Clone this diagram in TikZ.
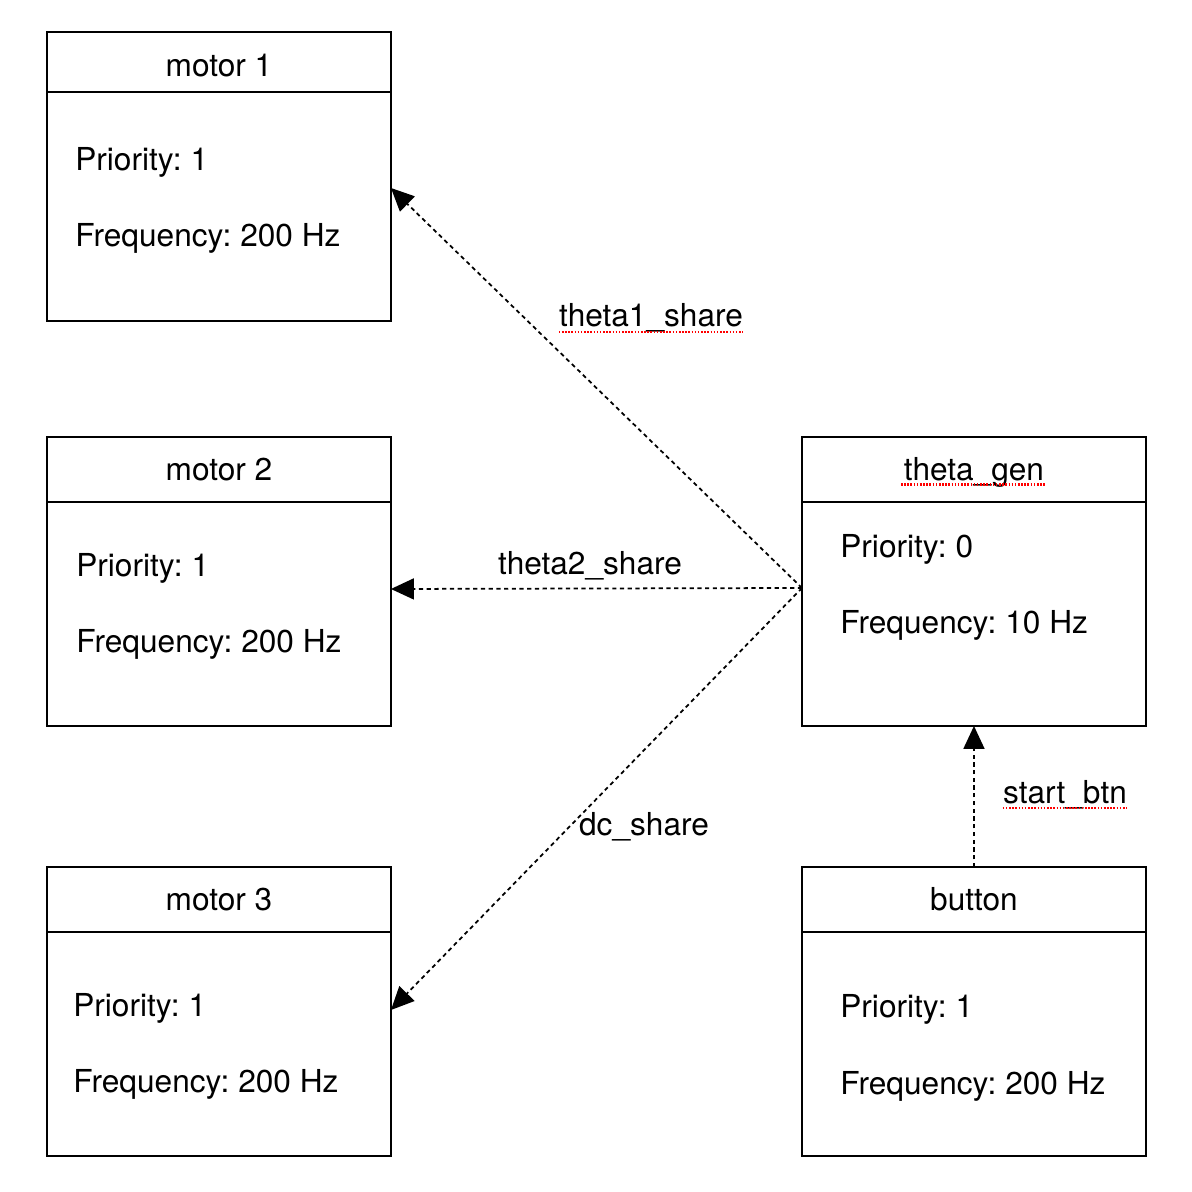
\documentclass[tikz,border=0pt]{standalone}
\usepackage{fontspec}
\setmainfont{TeX Gyre Heros}
\usetikzlibrary{arrows.meta, positioning, calc}
\frenchspacing

\begin{document}
\begin{tikzpicture}[
  x = 0.02cm, y = -0.02cm,
  head/.style  = {rectangle, draw, line width=1.3pt, outer sep=0pt, inner sep=0pt,
                  minimum width=6.88cm, minimum height=1.3cm,
                  text height=0.44cm, text depth=0pt,
                  font=\fontsize{18}{22}\selectfont},
  body/.style  = {rectangle, draw, line width=1.3pt, outer sep=0pt,
                  minimum width=6.88cm, minimum height=4.48cm},
  info/.style  = {anchor=base west, inner sep=0pt, font=\fontsize{18}{22}\selectfont},
  lbl/.style   = {anchor=base, inner sep=0pt, font=\fontsize{18}{22}\selectfont},
  arr/.style   = {-{Triangle[length=0.46cm, width=0.42cm]}, line width=1pt,
                  dash pattern=on 2.4pt off 2pt},
  spell/.style = {red, line width=1.4pt, dash pattern=on 0.9pt off 0.9pt},
]
\path[use as bounding box, fill=white] (0,0) rectangle (1191,1192);
% Left column: motors
\node[head, minimum height=1.2cm, text height=0.6cm, anchor=north west] (m1h) at (47,32) {motor 1};
\node[body, minimum height=4.58cm, below=0pt of m1h] (m1b) {};
\node[info] (m1pri) at ($(m1b.north west)+(28,79)$) {Priority: 1};
\node[info] (m1frq) at ($(m1pri.base west)+(0,76)$) {Frequency: 200 Hz};

\node[head, anchor=north west] (m2h) at (47,437) {motor 2};
\node[body, below=0pt of m2h] (m2b) {};
\node[info] (m2pri) at ($(m2b.north west)+(29,75)$) {Priority: 1};
\node[info] (m2frq) at ($(m2pri.base west)+(0,76)$) {Frequency: 200 Hz};

\node[head, anchor=north west] (m3h) at (47,867) {motor 3};
\node[body, below=0pt of m3h] (m3b) {};
\node[info] (m3pri) at ($(m3b.north west)+(26,85)$) {Priority: 1};
\node[info] (m3frq) at ($(m3pri.base west)+(0,76)$) {Frequency: 200 Hz};
% Right column: generator and button
\node[head, anchor=north west] (tgh) at (802,437) {theta\_gen};
\node[body, below=0pt of tgh] (tgb) {};
\node[info] (tgpri) at ($(tgb.north west)+(38,56)$) {Priority: 0};
\node[info] (tgfrq) at ($(tgpri.base west)+(0,76)$) {Frequency: 10 Hz};

\node[head, anchor=north west] (bth) at (802,867) {button};
\node[body, below=0pt of bth] (btb) {};
\node[info] (btpri) at ($(btb.north west)+(38,86)$) {Priority: 1};
\node[info] (btfrq) at ($(btpri.base west)+(0,77)$) {Frequency: 200 Hz};
% Ports
\coordinate (tgout) at ($(tgb.north west)+(0,86)$);
\coordinate (m1in)  at ($(m1b.north east)+(0,96)$);
\coordinate (m2in)  at ($(m2b.north east)+(0,87)$);
\coordinate (m3in)  at ($(m3b.north east)+(0,78)$);
% Arrows
\draw[arr] (tgout) -- (m1in);
\draw[arr] (tgout) -- (m2in);
\draw[arr] (tgout) -- (m3in);
\draw[arr] (bth.north) -- (tgb.south);
% Labels
\node[lbl] (t1lbl) at (651,327) {theta1\_share};
\node[lbl] (t2lbl) at (590,574) {theta2\_share};
\node[lbl] (dclbl) at (644,835) {dc\_share};
\node[lbl] (sblbl) at (1065,803) {start\_btn};
% Spell-check marks
\draw[spell] ($(t1lbl.base west)+(0,5)$) -- ($(t1lbl.base east)+(0,5)$);
\draw[spell] ($(sblbl.base west)+(0,5)$) -- ($(sblbl.base east)+(0,5)$);
\draw[spell] ($(tgh.base)+(-73,4)$) -- ($(tgh.base)+(72,4)$);
\end{tikzpicture}
\end{document}
